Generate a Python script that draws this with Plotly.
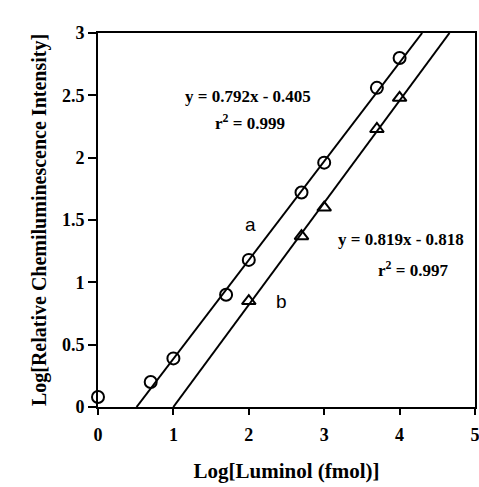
import plotly.graph_objects as go

# Measured points: log luminol amount (fmol) vs log relative CL intensity
log_luminol_a = [0, 0.699, 1, 1.699, 2, 2.699, 3, 3.699, 4]
log_intensity_a = [0.08, 0.20, 0.39, 0.90, 1.18, 1.72, 1.96, 2.56, 2.80]

log_luminol_b = [2, 2.699, 3, 3.699, 4]
log_intensity_b = [0.85, 1.37, 1.60, 2.23, 2.48]

# Linear fits (slope, intercept)
fit_a = (0.792, -0.405)
fit_b = (0.819, -0.818)

x_ticks = [0, 1, 2, 3, 4, 5]
y_ticks = [0, 0.5, 1, 1.5, 2, 2.5, 3]


def fit_segment(slope, intercept, y_lo=0.0, y_hi=3.0):
    x0 = (y_lo - intercept) / slope
    x1 = (y_hi - intercept) / slope
    return [x0, x1], [y_lo, y_hi]


serif = "Liberation Serif"
fig = go.Figure()

for slope, intercept in (fit_a, fit_b):
    xs, ys = fit_segment(slope, intercept)
    fig.add_trace(go.Scatter(x=xs, y=ys, mode="lines",
                             line=dict(color="black", width=2),
                             showlegend=False))

fig.add_trace(go.Scatter(x=log_luminol_a, y=log_intensity_a, mode="markers",
                         marker=dict(symbol="circle-open", size=12, color="black",
                                     line=dict(width=2)),
                         showlegend=False, cliponaxis=False))
fig.add_trace(go.Scatter(x=log_luminol_b, y=log_intensity_b, mode="markers",
                         marker=dict(symbol="triangle-up-open", size=12, color="black",
                                     line=dict(width=2)),
                         showlegend=False, cliponaxis=False))

eq_font = dict(family=serif, size=17, color="black", weight="bold")
letter_font = dict(family="Liberation Sans", size=19, color="black")
annotations = [
    dict(x=1.99, y=2.49, text="y = %.3fx - %.3f" % (fit_a[0], -fit_a[1]), font=eq_font),
    dict(x=2.02, y=2.29, text="r<sup>2</sup> = 0.999", font=eq_font),
    dict(x=2.02, y=1.46, text="a", font=letter_font),
    dict(x=2.43, y=0.85, text="b", font=letter_font),
    dict(x=4.02, y=1.34, text="y = %.3fx - %.3f" % (fit_b[0], -fit_b[1]), font=eq_font),
    dict(x=4.18, y=1.11, text="r<sup>2</sup> = 0.997", font=eq_font),
]
for a in annotations:
    a.update(xref="x", yref="y", showarrow=False)
fig.update_layout(annotations=annotations)

axis_common = dict(
    showgrid=False, zeroline=False, showline=True, linecolor="black", linewidth=2,
    mirror=True, ticks="outside", tickwidth=1.5, tickcolor="black", automargin=False,
    tickfont=dict(family=serif, size=18, color="black", weight="bold"),
)
fig.update_xaxes(range=[0, 5], tickvals=x_ticks, ticklen=6, ticklabelstandoff=4,
                 ticklabeloverflow="allow",
                 title=dict(text="Log[Luminol (fmol)]", standoff=20,
                            font=dict(family=serif, size=21, color="black", weight="bold")),
                 **axis_common)
fig.update_yaxes(range=[0, 3], tickvals=y_ticks, ticktext=[("%g" % v) for v in y_ticks],
                 ticklen=8,
                 title=dict(text="Log[Relative Chemiluminescence Intensity]", standoff=10,
                            font=dict(family=serif, size=20, color="black", weight="bold")),
                 **axis_common)

fig.update_layout(
    width=479, height=487,
    margin=dict(l=98, r=4, t=33, b=80),
    plot_bgcolor="white", paper_bgcolor="white",
)

fig.write_html("out.html")
